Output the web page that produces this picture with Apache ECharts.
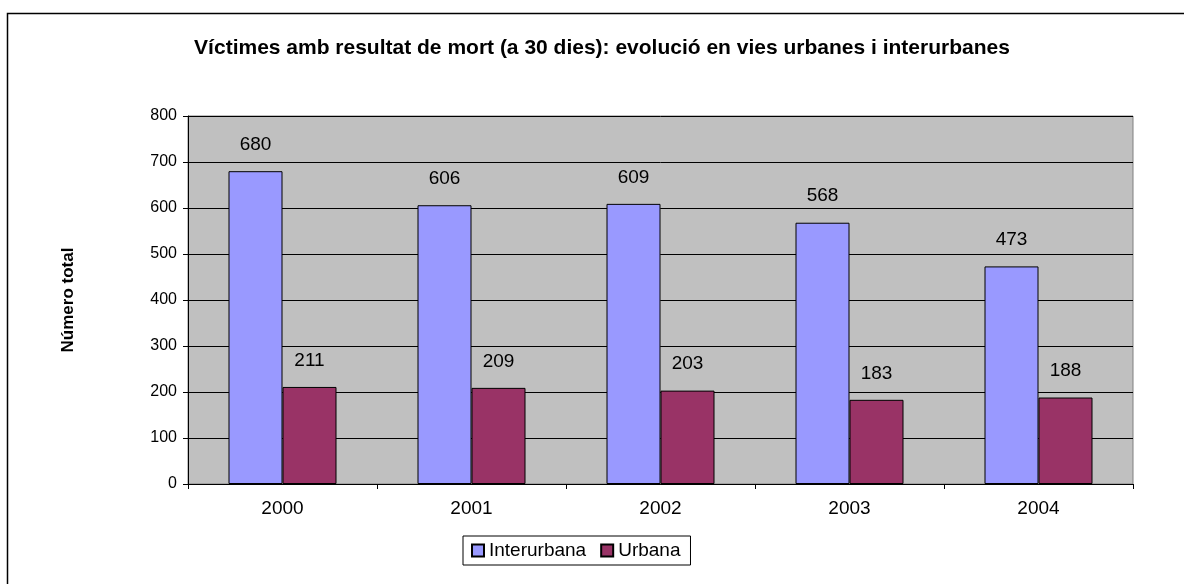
<!DOCTYPE html>
<html><head><meta charset="utf-8">
<script src="https://cdn.jsdelivr.net/npm/echarts@6/dist/echarts.min.js"></script>
<style>html,body{margin:0;padding:0;background:#fff}#c{width:1184px;height:584px}</style>
</head><body><div id="c"></div>
<script>
const categories = ['2000', '2001', '2002', '2003', '2004'];
const interurbana = [680, 606, 609, 568, 473];
const urbana = [211, 209, 203, 183, 188];
const yTicks = [0, 100, 200, 300, 400, 500, 600, 700, 800];

const chart = echarts.init(document.getElementById('c'), null, {renderer: 'canvas'});
const F = 'Liberation Sans, Arial, sans-serif';
chart.setOption({
  animation: false,
  backgroundColor: '#ffffff',
  graphic: [{type: 'rect', shape: {x: 7.5, y: 13.5, width: 1200, height: 600}, style: {fill: 'none', stroke: '#000', lineWidth: 1.5}, z: -1}],
  title: {text: 'Víctimes amb resultat de mort (a 30 dies): evolució en vies urbanes i interurbanes', left: 597, top: 33, textAlign: 'center',
    textStyle: {fontFamily: F, fontWeight: 'bold', fontSize: 21, color: '#000'}},
  legend: {data: ['Interurbana', 'Urbana'], left: 463, top: 536, padding: [5, 10, 5, 8], icon: 'rect',
    borderColor: '#000', borderWidth: 1, itemWidth: 12, itemHeight: 12, itemGap: 14,
    textStyle: {fontFamily: F, fontSize: 19, color: '#000', padding: [0, 0, 0, 0]}},
  grid: {left: 188, top: 116, width: 945, height: 368, backgroundColor: '#C0C0C0', show: true, borderColor: '#808080', borderWidth: 1},
  xAxis: {type: 'category', data: categories,
    axisLine: {lineStyle: {color: '#000'}}, axisTick: {show: true, length: 5, lineStyle: {color: '#000'}},
    axisLabel: {fontFamily: F, fontSize: 19, color: '#000', margin: 15}},
  yAxis: {type: 'value', min: 0, max: 800, interval: 100, name: 'Número total', nameLocation: 'middle', nameGap: 111, nameRotate: 90,
    nameTextStyle: {fontFamily: F, fontWeight: 'bold', fontSize: 17, color: '#000'},
    axisLine: {show: true, lineStyle: {color: '#000'}}, axisTick: {show: true, length: 5, inside: false, lineStyle: {color: '#000'}},
    axisLabel: {fontFamily: F, fontSize: 16, color: '#000', margin: 11, formatter: v => yTicks.includes(v) ? String(v) : ''},
    splitLine: {lineStyle: {color: '#000', width: 1}}},
  series: [
    {name: 'Interurbana', type: 'bar', data: interurbana, barWidth: 54, barGap: '0%',
      itemStyle: {color: '#9999FF', borderColor: '#000', borderWidth: 1},
      label: {show: true, position: 'top', distance: 17, fontFamily: F, fontSize: 19, color: '#000'}},
    {name: 'Urbana', type: 'bar', data: urbana, barWidth: 54,
      itemStyle: {color: '#993366', borderColor: '#000', borderWidth: 1},
      label: {show: true, position: 'top', distance: 17, fontFamily: F, fontSize: 19, color: '#000'}}
  ]
});
</script></body></html>
